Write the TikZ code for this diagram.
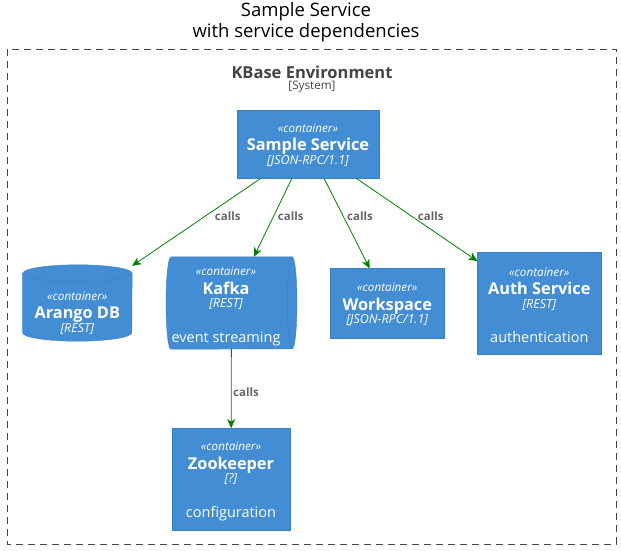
\documentclass[tikz,border=0pt]{standalone}
\usepackage{fontspec}
\setmainfont{Open Sans}
\usetikzlibrary{positioning,arrows.meta}

\definecolor{ctrfill}{HTML}{438DD5}
\definecolor{ctrline}{HTML}{3C7FC0}
\definecolor{relgreen}{HTML}{008000}
\definecolor{lblgray}{HTML}{666666}
\definecolor{sysgray}{HTML}{444444}

% container text: stereotype, name, technology (struts fix the block height)
\newcommand{\ctrtxt}[2]{\rule{0pt}{12.8pt}{\itshape «container»}\\[2.2pt]{\fontsize{16.3}{16}\selectfont\bfseries #1}\\[-2.4pt]{\fontsize{12.5}{16}\selectfont\itshape [#2]}\rule[-4pt]{0pt}{4pt}}
\newcommand{\ctrdesc}[1]{\\[17.9pt]{\fontsize{14.5}{16}\selectfont #1}\rule[-1pt]{0pt}{1pt}}

\begin{document}
\begin{tikzpicture}[x=1pt, y=-1pt,
    ctr/.style={rectangle, draw=ctrline, fill=ctrfill, text=white, align=center,
        inner sep=0pt, font=\fontsize{11.7}{16.2}\selectfont},
    slot/.style={rectangle, inner sep=0pt},
    shapefill/.style={draw=ctrline, fill=ctrfill},
    ctrlabel/.style={text=white, align=center, inner sep=0pt, font=\fontsize{11.7}{16.2}\selectfont},
    rel/.style={draw=relgreen, line width=0.8pt, -{Stealth[length=9pt,width=8pt,inset=2.5pt]}},
    calllbl/.style={font=\fontsize{11.5}{12}\selectfont\bfseries, text=lblgray, inner sep=0pt}]

    \useasboundingbox (0,0) rectangle (621,550);

    % title
    \node[align=center, font=\fontsize{18.5}{21}\selectfont] (title) at (306,22.5)
        {Sample Service\\with service dependencies};

    % system boundary
    \draw[sysgray, line width=0.8pt, dash pattern=on 7pt off 5pt] (7,49) rectangle (616,544);
    \node[font=\fontsize{16.5}{16}\selectfont\bfseries, text=sysgray] (sysname) at (312,72) {KBase Environment};
    \node[font=\fontsize{11.7}{12}\selectfont, text=sysgray] (systype) at (312,87) {[System]};

    % containers
    \node[ctr, minimum width=142, minimum height=68] (sample) at (308,144)
        {\ctrtxt{Sample Service}{JSON-RPC/1.1}};

    % database: vertical cylinder around a slot node
    \node[slot, minimum width=109.3, minimum height=76] (arango) at (77.3,303) {};
    \draw[shapefill] ([yshift=-8.5pt]arango.north west) -- ([yshift=8.5pt]arango.south west)
        arc[start angle=180, end angle=360, x radius=54.65pt, y radius=8.5pt]
        -- ([yshift=-8.5pt]arango.north east)
        arc[start angle=0, end angle=180, x radius=54.65pt, y radius=8.5pt] -- cycle;
    \draw[ctrline] ([yshift=-8.5pt]arango.north west)
        arc[start angle=180, end angle=360, x radius=54.65pt, y radius=8.5pt];
    \node[ctrlabel] (arangotxt) at (77.3,312.2) {\ctrtxt{Arango DB}{REST}};

    % queue: horizontal cylinder around a slot node
    \node[slot, minimum width=130.6, minimum height=92] (kafka) at (231.5,303) {};
    \draw[shapefill] ([xshift=4.8pt]kafka.north west) -- ([xshift=-4.8pt]kafka.north east)
        arc[start angle=90, end angle=-90, x radius=4.8pt, y radius=46pt]
        -- ([xshift=4.8pt]kafka.south west)
        arc[start angle=270, end angle=90, x radius=4.8pt, y radius=46pt] -- cycle;
    \draw[ctrline] ([xshift=-4.8pt]kafka.north east)
        arc[start angle=90, end angle=270, x radius=4.8pt, y radius=46pt];
    \node[ctrlabel] (kafkatxt) at (226,304.25)
        {\ctrtxt{Kafka}{REST}\ctrdesc{event streaming}};

    \node[ctr, minimum width=113.3, minimum height=69.3] (workspace) at (387.3,303.3)
        {\ctrtxt{Workspace}{JSON-RPC/1.1}};
    \node[ctr, minimum width=123.3, minimum height=101.3] (auth) at (539.3,303.3)
        {\ctrtxt{Auth Service}{REST}\ctrdesc{authentication}};
    \node[ctr, minimum width=118.3, minimum height=101.7] (zoo) at (231,479.2)
        {\ctrtxt{Zookeeper}{?}\ctrdesc{configuration}};

    % relations
    \draw[rel] ([xshift=-47pt]sample.south) -- (arango) node[calllbl] at (227.7,216) {calls};
    \draw[rel] ([xshift=-16pt]sample.south) -- (kafka) node[calllbl] at (290.7,216) {calls};
    \draw[rel] ([xshift=16pt]sample.south) -- (workspace) node[calllbl] at (360,216) {calls};
    \draw[rel] ([xshift=48pt]sample.south) -- (auth) node[calllbl] at (430.7,216) {calls};
    \draw[rel] (kafka) -- (zoo) node[calllbl] at (246,391.7) {calls};

\end{tikzpicture}
\end{document}
